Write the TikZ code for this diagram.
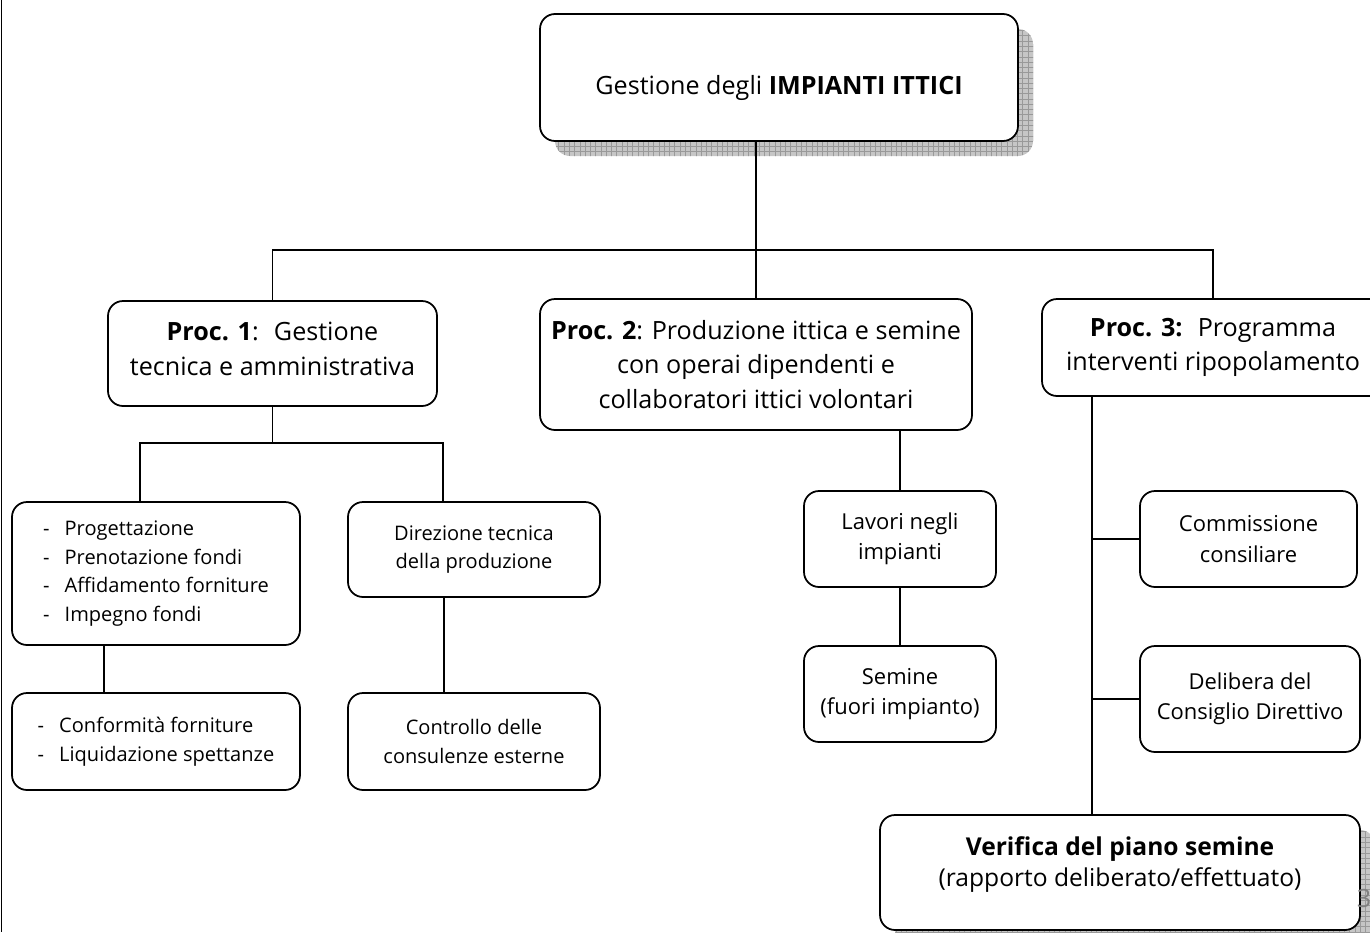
\documentclass[tikz,border=0pt]{standalone}
\usepackage{fontspec}
\setmainfont{Open Sans}
\usetikzlibrary{shadows,patterns}

\begin{document}
\begin{tikzpicture}[
    box/.style={draw, line width=1pt, rounded corners=0.3cm, fill=white, align=center, inner sep=2pt},
    huge/.style={font=\fontsize{14.3}{19.8}\selectfont},
    big/.style={font=\fontsize{12.5}{17.2}\selectfont},
    small/.style={font=\fontsize{11.4}{16.2}\selectfont},
    gridshadow/.style={drop shadow={shadow xshift=0.3cm, shadow yshift=-0.3cm, opacity=1, fill=gray!45},
        drop shadow={shadow xshift=0.3cm, shadow yshift=-0.3cm, opacity=1, pattern=grid, pattern color=gray!80}},
    link/.style={line width=1pt}
]
        \useasboundingbox (0,0) rectangle (27.4,-18.64);
        \draw[link] (0.03,0) -- (0.03,-18.64);
        \node[box, huge, gridshadow, minimum width=9.56cm, minimum height=2.54cm] (top) at (15.58,-1.55) {\raisebox{-6pt}[\height][\depth]{Gestione degli \textbf{IMPIANTI ITTICI}}};
        \node[box, huge, minimum width=6.58cm, minimum height=2.10cm] (p1) at (5.45,-7.07) {\textbf{Proc. 1}:~ Gestione\\tecnica e amministrativa\rule[-0.2cm]{0pt}{0pt}};
        \node[box, huge, minimum width=8.64cm, minimum height=2.62cm] (p2) at (15.12,-7.29) {\textbf{Proc. 2}: Produzione ittica e semine\\con operai dipendenti e\\collaboratori ittici volontari};
        \node[box, huge, minimum width=6.84cm, minimum height=1.94cm] (p3) at (24.26,-6.95) {\textbf{Proc. 3:}~ Programma\\interventi ripopolamento};
        \node[box, small, align=left, minimum width=5.76cm, minimum height=2.86cm] (fondi) at (3.12,-11.47) {-\hspace{0.75em}Progettazione\\-\hspace{0.75em}Prenotazione fondi\\-\hspace{0.75em}Affidamento forniture\\-\hspace{0.75em}Impegno fondi};
        \node[box, small, minimum width=5.04cm, minimum height=1.90cm] (direz) at (9.48,-10.99) {Direzione tecnica\\della produzione};
        \node[box, small, align=left, minimum width=5.76cm, minimum height=1.94cm] (liquid) at (3.12,-14.83) {-\hspace{0.75em}Conformità forniture\\-\hspace{0.75em}Liquidazione spettanze};
        \node[box, small, minimum width=5.04cm, minimum height=1.94cm] (consul) at (9.48,-14.83) {Controllo delle\\consulenze esterne};
        \node[box, big, minimum width=3.84cm, minimum height=1.92cm] (lavori) at (18.0,-10.78) {Lavori negli\\impianti};
        \node[box, big, minimum width=3.84cm, minimum height=1.92cm] (semine) at (18.0,-13.88) {Semine\\(fuori impianto)};
        \node[box, big, minimum width=4.34cm, minimum height=1.92cm] (commis) at (24.97,-10.78) {Commissione\\consiliare};
        \node[box, big, minimum width=4.40cm, minimum height=2.12cm] (delib) at (25.0,-13.98) {Delibera del\\Consiglio Direttivo};
        \node[box, font=\fontsize{14}{17.6}\selectfont, gridshadow, minimum width=9.6cm, minimum height=2.3cm] (verif) at (22.4,-17.45) {\textbf{Verifica del piano semine}\\(rapporto deliberato/effettuato)\rule[-0.42cm]{0pt}{0pt}};
        \node[huge, text=gray, anchor=west, inner sep=0pt] (pnum) at (27.13,-17.98) {3};
        \coordinate (bus) at (0,-5.0);
        \coordinate (j1) at (0,-8.86);
        \coordinate (spine) at (21.84,0);
        \draw[link] (top.south -| p2.north) -- (p2.north);
        \draw[link] (p1.north) -- (p1.north |- bus) -- (p3.north |- bus) -- (p3.north);
        \draw[link] (p1.south) -- (p1.south |- j1);
        \draw[link] (2.8,0 |- fondi.north) -- (2.8,0 |- j1) -- (8.86,0 |- j1) -- (8.86,0 |- direz.north);
        \draw[link] (2.08,0 |- fondi.south) -- (2.08,0 |- liquid.north);
        \draw[link] (8.88,0 |- direz.south) -- (8.88,0 |- consul.north);
        \draw[link] (lavori.north |- p2.south) -- (lavori.north);
        \draw[link] (lavori.south) -- (semine.north);
        \draw[link] (spine |- p3.south) -- (spine |- verif.north);
        \draw[link] (commis.west) -- (commis.west -| spine);
        \draw[link] (delib.west) -- (delib.west -| spine);
\end{tikzpicture}
\end{document}
